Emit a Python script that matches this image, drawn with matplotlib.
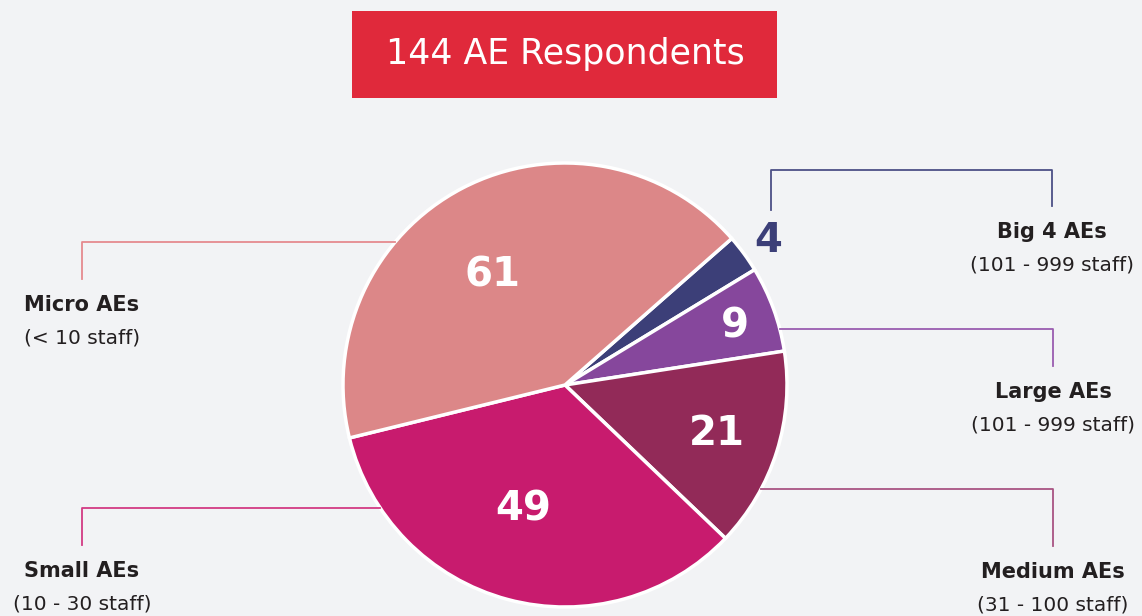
import numpy as np
import matplotlib
matplotlib.use("Agg")
import matplotlib.pyplot as plt
from matplotlib.patches import Rectangle

W, H = 1142, 616
BG = "#F2F3F5"

# Data (clockwise from the top-right wedge)
categories = ["Big 4 AEs", "Large AEs", "Medium AEs", "Small AEs", "Micro AEs"]
staff = ["(101 - 999 staff)", "(101 - 999 staff)", "(31 - 100 staff)",
         "(10 - 30 staff)", "(< 10 staff)"]
counts = [4, 9, 21, 49, 61]
colors = ["#3C3F78", "#86479C", "#922A58", "#C81B6E", "#DC8788"]
line_colors = ["#4C5086", "#9A5CB0", "#A85382", "#D23A84", "#E58A8E"]
title = "144 AE Respondents"

CX, CY, R = 565, 385, 222

fig = plt.figure(figsize=(W / 100, H / 100), dpi=100, facecolor=BG)
ax = fig.add_axes([0, 0, 1, 1])

# y axis is inverted below, so counterclock in data space runs clockwise on screen
wedges, _ = ax.pie(counts, colors=colors, startangle=-41.3, counterclock=True,
                   center=(CX, CY), radius=R,
                   wedgeprops=dict(edgecolor="white", linewidth=2.5))
ax.set_xlim(0, W)
ax.set_ylim(H, 0)
ax.set_aspect("equal")
ax.axis("off")

# value labels inside / beside wedges (distance factor, angle nudge)
label_dist = [1.12, 0.81, 0.72, 0.59, 0.59]
label_rot = [1.0, 1.0, 0.5, 3.5, -6.0]
for w, n, d, da, c in zip(wedges, counts, label_dist, label_rot, colors):
    mid = np.deg2rad((w.theta1 + w.theta2) / 2 + da)
    x = CX + d * R * np.cos(mid)
    y = CY + d * R * np.sin(mid)
    col = c if d > 1 else "white"
    ax.text(x, y, str(n), ha="center", va="center", fontsize=29,
            fontweight="bold", color=col)

# connectors: (horizontal y, text anchor x, vertical end y, side)
conn = [
    (170, 1052, 206, "big4"),
    (329, 1053, 366, "right"),
    (489, 1053, 546, "right"),
    (508, 82, 545, "left"),
    (242, 82, 279, "left"),
]
for (ly, tx, vy, side), lc, cat, st in zip(conn, line_colors, categories, staff):
    if side == "big4":
        ax.plot([771, 771, tx, tx], [210, ly, ly, vy], color=lc, lw=1.3)
    else:
        dx = np.sqrt(R ** 2 - (ly - CY) ** 2)
        x0 = CX + dx if side == "right" else CX - dx
        ax.plot([x0, tx, tx], [ly, ly, vy], color=lc, lw=1.3)
    ax.text(tx, vy + 26, cat, ha="center", va="center", fontsize=15,
            fontweight="bold", color="#231F20")
    ax.text(tx, vy + 59, st, ha="center", va="center", fontsize=14.5,
            color="#231F20")

# title box
ax.add_patch(Rectangle((352, 11), 425, 87, facecolor="#E0293B", edgecolor="none"))
ax.text(565, 54, title, ha="center", va="center", fontsize=25, color="white")

fig.savefig("out.png", dpi=100, facecolor=BG)
